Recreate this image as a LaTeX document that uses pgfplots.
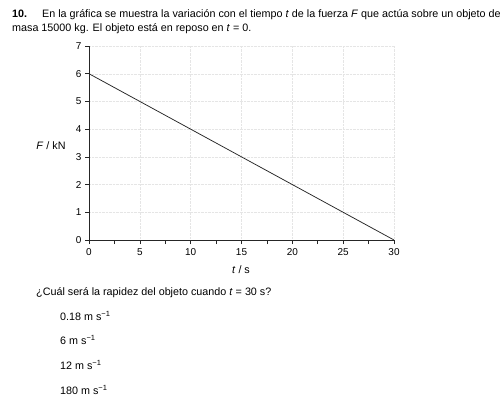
\documentclass[border=0pt]{standalone}
\usepackage{pgfplots}
\pgfplotsset{compat=1.18}
\usepackage{fontspec}
\setmainfont{Liberation Sans}
\newcommand\txt{\fontsize{10.8}{12}\selectfont}
\begin{document}
\begin{tikzpicture}
\path[use as bounding box, fill=white] (0bp,0bp) rectangle (504bp,-401bp);
\begin{axis}[
  at={(89bp,-240bp)}, anchor=origin,
  scale only axis, width=305bp, height=194bp,
  xmin=0, xmax=30, ymin=0, ymax=7,
  axis x line*=bottom, axis y line*=left,
  axis line style={-, black!85, line width=0.7pt},
  xtick={0,5,...,30}, minor xtick={2.5,7.5,...,27.5},
  ytick={0,1,...,7},
  tick align=outside, tick style={black!85, line width=0.6pt},
  major tick length=4bp, minor tick length=4bp,
  tick label style={font=\fontsize{10}{11}\selectfont},
  /pgf/number format/assume math mode=true,
  xticklabel style={yshift=-1bp},
  grid=major, grid style={densely dotted, black!10, line width=0.4pt},
  clip=false,
]
\addplot[black!85, line width=0.75pt] coordinates {(0,6) (5,5) (10,4) (15,3) (20,2) (25,1) (30,0)};
\end{axis}
\node[anchor=base west, inner sep=0, font=\txt\bfseries] at (12bp,-17bp) {10.};
\node[anchor=base west, inner sep=0, font=\txt] at (42bp,-17bp) {En la gráfica se muestra la variación con el tiempo \textit{t} de la fuerza \textit{F} que actúa sobre un objeto de};
\node[anchor=base west, inner sep=0, font=\txt] at (12bp,-31bp) {masa 15000 kg. El objeto está en reposo en \textit{t} = 0.};
\node[anchor=center, inner sep=0, font=\txt] at (51bp,-146bp) {\textit{F} / kN};
\node[anchor=center, inner sep=0, font=\txt] at (241bp,-270bp) {\textit{t} / s};
\node[anchor=base west, inner sep=0, font=\txt] at (36bp,-295bp) {¿Cuál será la rapidez del objeto cuando \textit{t} = 30 s?};
\node[anchor=base west, inner sep=0, font=\txt] at (60bp,-320bp) {0.18 m s\textsuperscript{−1}};
\node[anchor=base west, inner sep=0, font=\txt] at (60bp,-344bp) {6 m s\textsuperscript{−1}};
\node[anchor=base west, inner sep=0, font=\txt] at (60bp,-369bp) {12 m s\textsuperscript{−1}};
\node[anchor=base west, inner sep=0, font=\txt] at (60bp,-394bp) {180 m s\textsuperscript{−1}};
\end{tikzpicture}
\end{document}
